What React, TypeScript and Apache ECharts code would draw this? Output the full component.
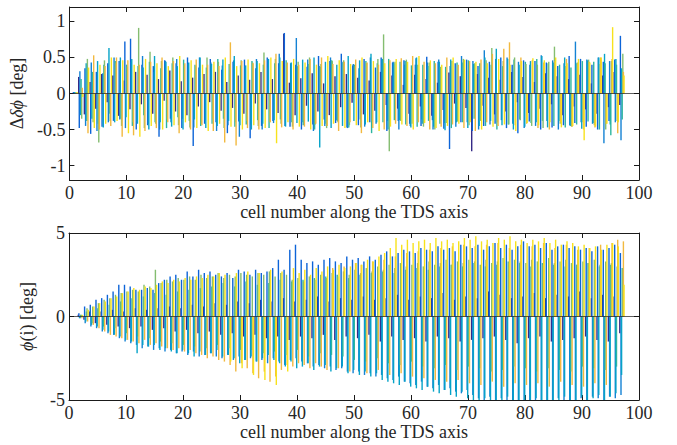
import React, { useEffect, useRef } from "react";
import * as echarts from "echarts";

// cell numbers along the TDS axis (group positions)
const CELLS = [1,2,3,4,5,6,7,8,9,10,11,12,13,14,15,16,17,18,19,20,21,22,23,24,25,26,27,28,29,30,31,32,33,34,35,36,37,38,39,40,41,42,43,44,45,46,47,48,49,50,51,52,53,54,55,56,57,58,59,60,61,62,63,64,65,66,67,68,69,70,71,72,73,74,75,76,77,78,79,80,81,82,83,84,85,86,87,88,89,90,91,92,93,94,95,96,97];

const X_TICKS = [0,10,20,30,40,50,60,70,80,90,100];
const TOP_Y_TICKS = [-1,-0.5,0,0.5,1];
const BOT_Y_TICKS = [-5,0,5];

const COLORS = ["#352a87","#0d64d8","#1482d4","#06a3c8","#2db59f","#84bd70","#f2b93f","#f7e21c"];

// ---- top panel: Δδϕ [deg] ----
const TOP_S1 = [.01,.23,-.29,.16,-.21,.27,-.12,.25,-.31,.18,
-.22,.3,-.15,.26,-.28,.2,-.1,.32,-.25,.17,
-.3,.22,-.18,.27,-.12,.3,-.24,.16,-.2,.25,
-.28,.19,-.14,.3,-.22,.2,-.27,.83,.15,-.3,
.21,-.17,.28,-.25,.14,-.3,.24,-.19,.27,-.13,
.22,-.29,.18,-.24,.3,-.16,.25,-.21,.12,-.28,
.26,-.18,.2,-.31,.15,-.23,.29,-.14,.24,-.2,
-.8,.27,-.17,.22,-.29,.19,-.25,.3,-.12,.23,
-.27,.16,-.21,.28,-.15,.24,-.3,.2,-.18,.26,
-.22,.14,-.28,.25,-.19,.3,-.16];
const TOP_S2 = [.02,-.48,.35,-.56,.3,-.46,.42,-.38,.45,.72,
.76,-.5,.4,-.44,.38,-.6,.46,-.35,.42,-.48,
.5,-.73,.36,-.42,.48,-.4,.33,-.55,.44,-.39,
.47,-.62,.35,-.45,.5,-.38,.42,.84,-.46,.4,
-.5,.37,-.43,.52,-.36,.45,-.41,.55,-.47,.39,
-.44,.48,-.4,.36,.5,-.52,.43,-.38,.46,-.42,
.4,-.45,.51,-.37,.44,-.49,-.77,.42,-.4,.47,
-.52,.38,-.45,.44,-.42,.5,-.48,.4,-.55,.46,
-.39,.45,-.5,.43,-.47,.38,-.44,.52,-.41,.48,
-.46,.4,-.5,.44,-.38,.47,.8];
const TOP_S3 = [.01,.31,-.45,.43,-.52,.28,-.4,.5,-.36,-.48,
.44,-.38,.52,-.42,.3,-.5,.45,-.4,.48,-.35,
.41,-.47,.5,-.37,.43,-.52,.39,-.44,.46,-.6,
.38,-.43,.48,-.5,.36,-.41,.55,-.45,.42,.77,
-.4,.47,-.52,.38,-.45,.5,-.37,.44,-.48,.41,
.35,-.46,.5,-.42,.48,-.38,.44,-.5,.4,-.45,
.49,-.36,.43,-.5,.47,-.41,.38,-.46,.52,-.4,
.45,-.5,.6,-.43,.48,-.37,.5,-.42,.44,-.48,
.4,-.45,.53,-.38,.46,-.5,.42,-.44,.72,-.4,
.47,-.42,.5,-.69,.45,-.4,-.65];
const TOP_S4 = [.02,-.3,.42,-.35,.45,-.47,.63,-.4,.5,-.33,
.48,-.42,.36,-.5,.52,-.4,.44,-.46,.38,-.5,
.43,-.36,.5,-.48,.41,-.45,.47,-.38,.52,-.44,
.39,-.5,.45,-.42,.48,-.37,.5,-.46,.43,-.41,
.47,-.39,.5,-.75,.44,-.48,.4,-.45,.52,-.38,
.46,-.43,.55,-.4,.48,-.5,.42,-.37,.45,-.47,
.5,-.42,.38,-.46,.44,-.51,.47,-.4,.43,-.48,
.41,-.45,.5,-.38,.62,-.44,.48,-.5,.4,-.46,
.45,-.4,.52,-.47,.43,-.38,.5,-.45,.42,-.49,
.46,-.41,.5,.55,-.43,.48,.35];
const TOP_S5 = [.01,.2,-.38,.3,-.42,.4,-.28,.45,-.35,.4,
-.45,.38,-.3,.44,-.4,.35,-.48,.42,-.33,.47,
-.38,.4,-.45,.36,-.42,.48,-.35,.41,-.46,.39,
-.43,.45,-.37,.4,-.48,.42,-.36,.46,-.4,.38,
-.44,.41,-.5,.37,-.42,.46,-.38,.43,-.47,.4,
-.36,.45,-.55,.42,-.4,.48,-.37,.44,-.43,.39,
-.46,.4,-.38,.45,-.42,.37,-.48,.43,-.4,.46,
-.35,.42,-.45,.4,-.5,.38,-.43,.47,-.36,.44,
-.41,.48,-.38,.42,-.45,.4,-.47,.36,-.43,.45,
-.39,.44,-.5,.42,-.58,.4,-.36];
const TOP_S6 = [.02,-.35,.48,-.4,-.68,.46,-.38,.42,-.45,.37,
-.4,.91,-.48,.58,-.42,.45,-.36,.5,-.44,.4,
-.47,.38,-.42,.5,-.35,.44,-.48,.41,-.4,.46,
-.38,.43,-.45,.57,-.4,.48,-.42,.39,-.46,.44,
-.37,.5,-.43,.41,-.48,.45,-.4,.46,-.44,.38,
-.47,.42,-.39,.48,.82,-.8,.44,-.38,.47,-.42,
.4,-.46,.43,-.5,.37,-.41,.45,-.39,.48,-.44,
.42,-.38,.46,.63,-.4,.45,-.43,.5,-.37,.41,
-.45,.4,-.48,.44,.65,-.42,.38,-.46,.43,-.4,
.47,-.44,.41,-.5,.45,-.38,.55];
const TOP_S7 = [.01,.08,-.55,.53,-.5,.38,-.45,.5,-.6,.46,
-.58,.4,-.52,.44,-.48,.5,-.4,.45,-.55,.42,
-.5,.47,-.44,.4,-.52,.38,-.68,.71,-.72,.45,
-.48,.42,-.5,.46,-.4,.55,-.47,.43,-.5,.4,
-.46,.48,-.42,.5,-.45,.41,-.52,.44,-.4,.47,
-.55,.43,-.48,.4,-.5,.46,-.42,.49,-.45,.52,
-.4,.44,-.5,.42,-.46,.5,-.43,.4,-.48,.45,
-.52,.47,-.4,.55,-.45,.62,.71,-.44,.5,-.42,
.46,-.48,.43,-.5,.45,-.4,.48,-.46,.42,-.5,
.44,-.47,.5,-.42,.48,-.55,.3];
const TOP_S8 = [.02,-.05,.36,-.48,.4,-.42,.5,-.38,.46,-.55,
.4,-.6,.48,-.45,.42,-.5,.38,-.44,.52,-.4,
.46,-.48,.4,-.52,.44,-.42,.5,-.46,.38,-.5,
.47,-.44,.42,-.48,.5,-.69,.45,-.4,.48,-.46,
.43,-.5,.4,-.45,.52,-.42,.46,-.48,.41,-.44,
.5,-.4,.45,-.52,.42,-.46,.48,-.43,.44,-.5,
.52,-.41,.46,-.48,.4,-.45,.5,-.42,.47,-.4,
.44,-.5,.42,-.46,.48,-.43,.4,-.52,.45,-.41,
.49,-.44,.46,-.4,.5,-.47,.42,-.45,.48,-.65,
.43,-.46,.5,-.42,.92,-.4,.25];

// ---- bottom panel: ϕ(i) [deg] ----
const BOT_S1 = [0,.1,-.2,.3,-.4,.3,-.5,.4,-.6,.3,
-.7,.5,-.6,.4,-.8,.5,-.7,.6,-.9,.5,
-.8,.7,-1,.6,-.9,.8,-1.1,.7,-1,.9,
-1.2,.8,-1.1,1,-1.3,.9,-1.2,1.1,-1.4,.9,
-1.2,1,-1.3,1.2,-1.1,.9,-1.4,1.1,-1.2,1,
-1.3,1.2,-1.1,1,-1.5,1.1,-1.2,1.3,-1.4,1,
-1.3,1.2,-1.5,1.1,-1.2,1.4,-1.3,1,-1.5,1.2,
-1.4,1.1,-1.3,1.5,-1.2,1.3,-1.4,1.1,-1.6,1.2,
-1.3,1.4,-1.2,1.1,-1.5,1.3,-1.4,1.2,-1.3,1.5,
-1.2,1.1,-1.4,1.3,-1.5,1.2,-1];
const BOT_S2 = [0,.2,.6,.7,1,1.1,1.3,1.5,1.9,1.9,
1.8,1.6,1.6,1.7,1.6,2,2.2,2.4,2.5,2.2,
2.7,2.4,2.8,2.6,2.7,2.5,2.4,2.6,2.3,2.8,
2.7,2.5,2.8,2.6,2.7,2.9,3.4,2.8,4,4.3,
3.4,3.2,3.3,3.1,3.4,3.5,3.3,3.2,3.6,3.4,
3.5,3.3,3.6,3.4,3.7,3.9,3.6,3.8,4,3.9,
3.8,4.1,4,3.9,4.2,4,4.1,3.9,4.3,4.2,
4.1,4.3,4,4.2,4.4,4.1,4.3,4,4.2,4.5,
4.2,4.3,4.1,4.4,4,4.2,4.3,4.1,4.2,4,
4.1,3.9,4.2,4,4.1,4.3,3.8];
const BOT_S3 = [0,-.1,-.4,-.6,-.7,-.9,-1,-1.1,-1.3,-1.5,
-1.6,-1.7,-1.9,-1.8,-2,-1.9,-2.1,-2,-2.2,-2.1,
-2.3,-2.1,-2.4,-2.3,-2.2,-2.4,-2.5,-2.3,-2.6,-2.4,
-2.6,-2.5,-2.7,-2.6,-2.8,-2.5,-2.7,-2.9,-2.6,-2.5,
-2.7,-2.8,-3,-2.9,-3.1,-3,-3.2,-3.1,-3.3,-3.4,
-3.3,-3.5,-3.4,-3.6,-3.5,-3.7,-3.8,-3.6,-3.9,-4,
-4.1,-3.9,-4.2,-4.3,-4.1,-4.4,-4.3,-4.5,-4.6,-4.4,
-4.7,-4.9,-5.2,-4.8,-5.3,-4.9,-5.1,-5.4,-5,-5.3,
-5.2,-5.5,-5,-5.3,-5.1,-4.9,-5.2,-5,-5.3,-4.9,
-5,-4.8,-4.9,-5.1,-4.8,-4.9,-4.7];
const BOT_S4 = [0,-.1,-.3,-.5,-.6,-.8,-.9,-1.1,-1.2,-1.4,
-1.5,-2.2,-1.7,-1.8,-1.7,-2,-1.9,-2.1,-2.2,-2,
-2.2,-2.4,-2.1,-2.3,-2.2,-2,-2.4,-2.3,-2.5,-2.8,
-2.6,-2.4,-2.7,-2.5,-2.3,-2.6,-2.8,-3,-2.7,-3.1,
-3,-2.8,-3.2,-3,-2.9,-3.3,-3.1,-3,-3.4,-3.2,
-3.5,-3.3,-3.6,-3.4,-3.8,-3.9,-4,-4.1,-3.9,-4.2,
-4.3,-4.4,-4.2,-4.5,-4.6,-4.4,-4.7,-4.8,-4.5,-4.9,
-5,-5.2,-4.9,-5.4,-5.1,-5.3,-4.8,-5.2,-5.1,-5.5,
-5.3,-4.9,-5.2,-5,-5.4,-5.1,-4.8,-5.3,-5,-4.8,
-5.1,-4.9,-4.7,-5,-4.8,-4.6,-3.5];
const BOT_S5 = [0,.1,.3,-.4,.5,-.6,.7,-.7,.9,-1,
1.1,-1.2,1.2,-1.3,1.4,-1.5,1.3,-1.6,1.5,-1.7,
1.6,-1.8,1.7,-1.9,1.8,-1.7,2,-1.9,1.8,-2,
2.1,-2,1.9,-2.2,2,-2.1,2.2,-2.3,2.1,-2,
2.2,-2.4,2.3,-2.2,2.4,-2.3,2.5,-2.4,2.3,-2.6,
2.5,-2.7,2.6,-2.5,2.7,-2.8,2.6,-2.9,2.8,-2.7,
2.9,-3,2.8,-3.1,3,-2.9,3.1,-3.2,3,-3,
3.2,-3.1,3,-3.3,3.1,-3.2,3.3,-3,3.2,-3.1,
3,-3.3,3.2,-3.1,3.1,-3.2,3,-3.3,3.1,-3,
3.2,-3.1,3,-3.2,3.1,-3,2.9];
const BOT_S6 = [0,.1,.5,.6,.8,1,1.1,1.3,1.4,1.5,
1.6,1.5,1.9,1.8,2.8,2,2.2,2.1,2.3,2.2,
2.4,2.2,2.5,2.3,2.4,2.6,2.3,2.5,2.4,2.6,
2.5,2.4,2.6,2.5,2.7,2.4,2.6,2.5,2.2,2.3,
2.1,2.4,2.2,2.5,2.3,2.6,2.4,2.7,2.5,2.8,
2.6,2.9,2.7,3,2.8,3.1,2.9,3.2,3,3.1,
3.2,3,3.3,3.1,3.2,3.4,3.1,3.3,3.2,3.4,
3.3,3.1,3.4,3.2,3.3,3.5,3.2,3.4,3.3,3.2,
3.4,3.3,3.1,3.5,3.2,3.3,3.4,3.2,3.1,3.3,
3.2,3.4,3.1,3.3,3.2,3,2.8];
const BOT_S7 = [0,-.1,-.3,-.5,-.7,-.9,-1.1,-1.2,-1.3,-1.4,
-1.5,-1.6,-1.4,-1.7,-1.6,-1.8,-1.9,-2,-1.9,-2.1,
-2,-2.2,-2.3,-2.5,-2.4,-2.6,-2.7,-2.9,-3.3,-2.8,
-3.1,-3.4,-3.7,-3.3,-3.9,-3.6,-3.2,-2.9,-3,-2.8,
-2.9,-3.1,-2.8,-3,-3.2,2.9,-3.1,3,-3.3,3.2,
3.1,-3.4,3.3,-3.2,3.4,-3.5,3.6,-3.4,3.8,-3.6,
3.9,-3.7,4,-3.8,4.1,-3.9,4.2,-3.8,4.3,-4,
4.2,-4.1,4.3,-3.9,4.4,-4.2,4.1,-4,4.3,-4.1,
4.2,-4,4.4,-4.2,4.1,-3.9,4.3,-4.1,4,-4.2,
4.1,-4,4.3,-4.1,4.4,4.6,4.5];
const BOT_S8 = [0,.1,.4,.6,.8,.9,1.1,1.2,1.4,1.5,
1.7,1.6,1.8,1.7,1.9,2.1,2,2.2,2.1,2.3,
2.2,2.4,2.3,2.5,2.4,2.6,2.5,-2.7,2.6,-3.1,
2.7,-3.5,2.6,-3.8,2.8,-4.1,2.7,-3.3,2.9,2.6,
2.8,2.5,2.9,2.7,3,2.8,3.1,2.9,3,3.2,
3.1,3.4,3.3,3.6,3.8,4.1,4.7,4.3,4.6,4.4,
4.5,4.6,4.4,4.7,4.5,4.6,4.4,4.5,4.7,4.6,
4.8,4.5,4.6,4.4,4.7,4.6,4.8,4.5,4.6,4.4,
4.6,4.5,4.7,4.4,4.6,4.3,4.5,4.4,4.2,4.3,
4.1,4.2,4,4.3,4.4,4.2,1.9];

const TOP_SERIES = [TOP_S1, TOP_S2, TOP_S3, TOP_S4, TOP_S5, TOP_S6, TOP_S7, TOP_S8];
const BOT_SERIES = [BOT_S1, BOT_S2, BOT_S3, BOT_S4, BOT_S5, BOT_S6, BOT_S7, BOT_S8];

const FONT = "'Liberation Serif', 'Times New Roman', serif";
const TXT = "#262626";

export default function App() {
  const ref = useRef<HTMLDivElement>(null);

  useEffect(() => {
    if (!ref.current) return;
    const chart = echarts.init(ref.current, undefined, { renderer: "svg" });

    const axisLine = { show: true, onZero: false, lineStyle: { color: "#1a1a1a", width: 1 } };
    const tick = (vals: number[]) => ({
      show: true, inside: true, length: 5, customValues: vals,
      lineStyle: { color: "#1a1a1a", width: 1 },
    });
    const label = (vals: number[], show: boolean) => ({
      show, customValues: vals, fontFamily: FONT, fontSize: 18, color: TXT, margin: 4,
    });
    const nameStyle = {
      fontFamily: FONT, fontSize: 18, color: TXT,
      rich: { i: { fontFamily: FONT, fontSize: 18, color: TXT, fontStyle: "italic" } },
    };

    const xAxes: any[] = [];
    const yAxes: any[] = [];
    [0, 1].forEach((g) => {
      xAxes.push({
        gridIndex: g, type: "value", min: 0, max: 100, position: "bottom",
        axisLine, axisTick: tick(X_TICKS), axisLabel: label(X_TICKS, true),
        splitLine: { show: false },
        name: "cell number along the TDS axis", nameLocation: "middle", nameGap: 23,
        nameTextStyle: nameStyle,
      });
      xAxes.push({
        gridIndex: g, type: "value", min: 0, max: 100, position: "top",
        axisLine, axisTick: tick(X_TICKS), axisLabel: label(X_TICKS, false),
        splitLine: { show: false },
      });
      const yt = g === 0 ? TOP_Y_TICKS : BOT_Y_TICKS;
      const ymin = g === 0 ? -1.2 : -5;
      const ymax = g === 0 ? 1.2 : 5;
      yAxes.push({
        gridIndex: g, type: "value", min: ymin, max: ymax, position: "left",
        axisLine, axisTick: tick(yt), axisLabel: label(yt, true),
        splitLine: { show: false },
        name: g === 0 ? "Δ{i|δϕ} [deg]" : "{i|ϕ}(i) [deg]",
        nameLocation: "middle", nameGap: g === 0 ? 36 : 33,
        nameTextStyle: nameStyle,
      });
      yAxes.push({
        gridIndex: g, type: "value", min: ymin, max: ymax, position: "right",
        axisLine, axisTick: tick(yt), axisLabel: label(yt, false),
        splitLine: { show: false },
      });
    });

    const makeSeries = (sets: number[][], g: number) =>
      sets.map((vals, s) => {
        const ser: any = {
          type: "bar",
          xAxisIndex: g * 2,
          yAxisIndex: g * 2,
          data: vals.map((v, k) => [CELLS[k], v]),
          barWidth: 1.4,
          barGap: "-57%",
          itemStyle: { color: COLORS[s] },
          silent: true,
        };
        if (s === sets.length - 1) {
          ser.markLine = {
            silent: true, symbol: ["none", "none"], label: { show: false },
            lineStyle: { color: "#1a1a1a", width: 0.7, type: "solid" },
            data: [{ yAxis: 0 }],
          };
        }
        return ser;
      });

    chart.setOption({
      animation: false,
      backgroundColor: "#ffffff",
      grid: [
        { left: 69, top: 7, width: 570, height: 173 },
        { left: 69, top: 233, width: 570, height: 167 },
      ],
      xAxis: xAxes,
      yAxis: yAxes,
      series: [...makeSeries(TOP_SERIES, 0), ...makeSeries(BOT_SERIES, 1)],
    });

    return () => chart.dispose();
  }, []);

  return (
    <div
      ref={ref}
      style={{ position: "fixed", left: 0, top: 0, width: 677, height: 445, background: "#fff" }}
    />
  );
}
